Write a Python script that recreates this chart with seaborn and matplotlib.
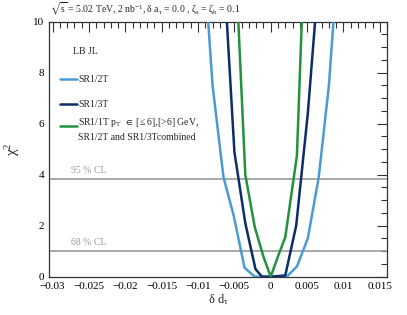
import matplotlib
matplotlib.use("Agg")
import matplotlib.pyplot as plt
import seaborn as sns
import pandas as pd
from matplotlib.ticker import MultipleLocator, FuncFormatter

# ---- data ----
sr12_x = [-0.0095, -0.0080, -0.0065, -0.0051, -0.0036, -0.0022, -0.0007, 0.0007, 0.0022, 0.0036, 0.0051, 0.0066, 0.0080, 0.0095]
sr12_y = [13.7, 7.5, 3.9, 2.4, 0.35, 0.0, 0.0, 0.0, 0.0, 0.4, 1.5, 3.9, 7.5, 13.5]

sr13_x = [-0.0065, -0.0050, -0.0035, -0.0021, -0.0012, 0.0, 0.0020, 0.0035, 0.0051, 0.0066]
sr13_y = [12.3, 4.9, 2.1, 0.3, 0.0, 0.0, 0.05, 2.0, 6.4, 11.8]

comb_x = [-0.0050, -0.0035, -0.0022, -0.0010, 0.0, 0.0010, 0.0020, 0.0036, 0.0050]
comb_y = [13.4, 4.0, 1.95, 0.78, 0.0, 0.80, 1.55, 4.75, 15.7]

labels = ["SR1/2T", "SR1/3T",
          "SR1/1T p$_{\\mathregular{T'}}$ $\\in$ [\u2264 6],[>6] GeV,\nSR1/2T and SR1/3Tcombined"]
colors = ["#4a9ad6", "#0c2c6a", "#23923f"]

cl_values = [3.84, 1.0]
cl_labels = ["95 % CL", "68 % CL"]

title = ("$\\mathregular{\\sqrt{s}}$ = 5.02 TeV, 2 nb$^{\\mathregular{-1}}$, "
         "\u03b4 a$_{\\mathregular{\\tau}}$ = 0.0 , \u03b6$_{\\mathregular{s}}$ = \u03b6$_{\\mathregular{b}}$ = 0.1")

df = pd.concat([
    pd.DataFrame({"x": sr12_x, "chi2": sr12_y, "curve": labels[0]}),
    pd.DataFrame({"x": sr13_x, "chi2": sr13_y, "curve": labels[1]}),
    pd.DataFrame({"x": comb_x, "chi2": comb_y, "curve": labels[2]}),
], ignore_index=True)

sns.set_theme(style="white")
plt.rcParams["font.family"] = ["Liberation Serif", "DejaVu Serif"]
plt.rcParams["mathtext.fontset"] = "custom"
plt.rcParams["mathtext.rm"] = "Liberation Serif"
plt.rcParams["mathtext.it"] = "Liberation Serif:italic"
plt.rcParams["mathtext.fallback"] = "stix"
plt.rcParams["axes.unicode_minus"] = True

fig = plt.figure(figsize=(4.07, 3.15), dpi=100)
ax = fig.add_axes([0.1204, 0.1216, 0.8306, 0.8095])

# CL lines
for v, lab in zip(cl_values, cl_labels):
    ax.axhline(v, color="#9a9a9a", lw=1.2, zorder=1)
    ax.text(-0.0275, v + 0.15, lab, color="#999999", fontsize=7, ha="left", va="bottom")

sns.lineplot(data=df, x="x", y="chi2", hue="curve", palette=dict(zip(labels, colors)),
             sort=False, estimator=None, lw=1.8, ax=ax, legend=False, zorder=3)

ax.set_xlim(-0.0305, 0.0160)
ax.set_ylim(0, 10)

# legend block (header + entries)
ax.text(0.07, 0.885, "LB JL", transform=ax.transAxes, fontsize=7, va="center", ha="left")
handle_y = [0.775, 0.677, 0.590]
text_y = [0.775, 0.677, 0.578]
for c, lab, hy, ty in zip(colors, labels, handle_y, text_y):
    ax.plot([0.033, 0.083], [hy, hy], transform=ax.transAxes, color=c, lw=1.8, clip_on=False)
    ax.text(0.087, ty, lab, transform=ax.transAxes, fontsize=7, va="center", ha="left",
            linespacing=1.55)

ax.xaxis.set_major_locator(MultipleLocator(0.005))
ax.xaxis.set_minor_locator(MultipleLocator(0.001))
ax.yaxis.set_major_locator(MultipleLocator(2))
ax.yaxis.set_minor_locator(MultipleLocator(0.5))

def fmt(v, pos):
    if abs(v) < 1e-12:
        return "0"
    s = ("%.3f" % v).rstrip("0").rstrip(".")
    return s.replace("-", "\u2212")
ax.xaxis.set_major_formatter(FuncFormatter(fmt))

ax.tick_params(which="both", direction="in", top=True, right=True, colors="#333333",
               labelcolor="black", labelsize=8)
ax.tick_params(which="major", length=7, width=0.8)
ax.tick_params(which="minor", length=4, width=0.8)
ax.tick_params(axis="x", pad=4)
for sp in ax.spines.values():
    sp.set_color("#333333")
    sp.set_linewidth(0.9)

ax.set_xlabel("\u03b4 d$_{\\mathregular{\\tau}}$", fontsize=9, labelpad=1)
ax.set_ylabel("\u03c7$^{\\mathregular{2}}$", fontsize=11)
ax.yaxis.set_label_coords(-0.08, 0.5)

fig.text(0.123, 0.945, title, fontsize=7, ha="left", va="bottom")

fig.savefig("out.png", dpi=100)
